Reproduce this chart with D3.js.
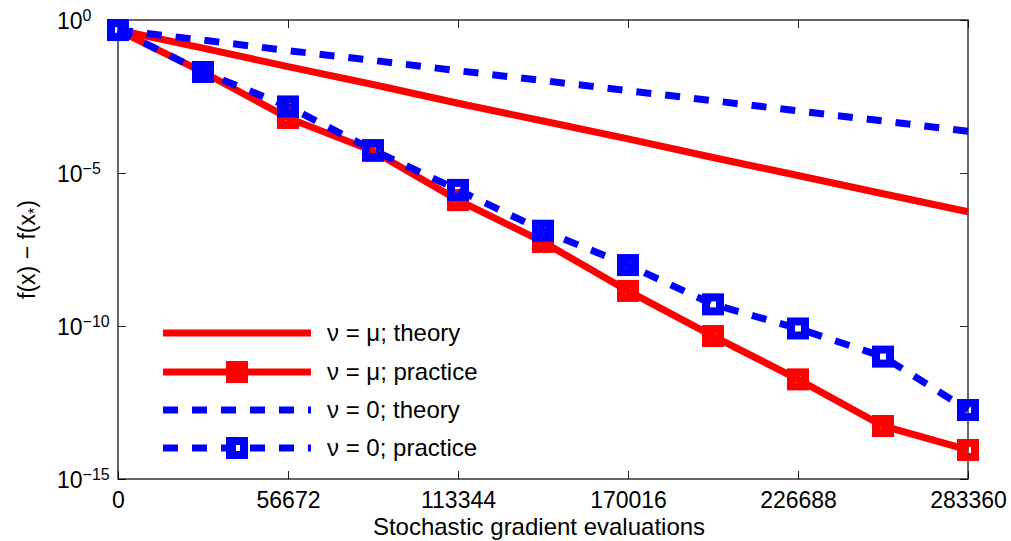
<!DOCTYPE html>
<html>
<head>
<meta charset="utf-8">
<script src="https://cdn.jsdelivr.net/npm/d3@7"></script>
<style>
  body { margin: 0; background: #fff; }
  svg { font-family: "Liberation Sans", Arial, Helvetica, sans-serif; }
</style>
</head>
<body>
<svg id="svg" width="1011" height="541"></svg>
<script>
// Values
var evals = [0, 28336, 56672, 85008, 113344, 141680, 170016, 198352, 226688, 255024, 283360];
var xTicks = [0, 56672, 113344, 170016, 226688, 283360];
var yTicks = [0, -5, -10, -15]; // exponents of 10

var muTheory = [4.7e-1, 1.2e-1, 3.0e-2, 7.8e-3, 1.9e-3, 5.0e-4, 1.3e-4, 3.2e-5, 8.3e-6, 2.1e-6, 5.4e-7];
var muPractice = [4.7e-1, 2.0e-2, 6.3e-4, 5.2e-5, 1.3e-6, 5.6e-8, 1.4e-9, 4.7e-11, 1.8e-12, 5.4e-14, 8.9e-15];
var zeroTheory = [4.7e-1, 2.2e-1, 1.0e-1, 4.8e-2, 2.2e-2, 1.05e-2, 4.9e-3, 2.3e-3, 1.07e-3, 5.0e-4, 2.3e-4];
var zeroPractice = [4.7e-1, 2.0e-2, 1.5e-3, 5.6e-5, 2.8e-6, 1.3e-7, 9.8e-9, 5.1e-10, 8.3e-11, 1.0e-11, 1.8e-13];

var seriesNames = ['\u03bd = \u03bc; theory', '\u03bd = \u03bc; practice', '\u03bd = 0; theory', '\u03bd = 0; practice'];

(function() {

var left = 118, right = 968, top = 20, bottom = 479;
var svg = d3.select('#svg');

var x = d3.scaleLinear().domain([0, 283360]).range([left, right]);
var y = d3.scaleLog().domain([1e-15, 1]).range([bottom, top]);

var RED = '#ff0000', BLUE = '#0000ff';
var LW = 7, DASH = '15,14';

// axes with inward ticks on all four sides
function styleAxis(g) {
  g.select('.domain').remove();
  g.selectAll('.tick line').attr('stroke', '#262626').attr('stroke-width', 1);
}
var yTickVals = yTicks.map(e => Math.pow(10, e));

svg.append('g').attr('transform', 'translate(0,' + bottom + ')')
  .call(d3.axisBottom(x).tickValues(xTicks).tickSizeInner(-8).tickPadding(13).tickFormat(d3.format('d')))
  .call(styleAxis)
  .selectAll('text').attr('font-size', 23).attr('fill', '#000').attr('font-family', null);
svg.append('g').attr('transform', 'translate(0,' + top + ')')
  .call(d3.axisTop(x).tickValues(xTicks).tickSizeInner(-8).tickFormat(''))
  .call(styleAxis);
svg.append('g').attr('transform', 'translate(' + left + ',0)')
  .call(d3.axisLeft(y).tickValues(yTickVals).tickSizeInner(-8).tickFormat(''))
  .call(styleAxis);
svg.append('g').attr('transform', 'translate(' + right + ',0)')
  .call(d3.axisRight(y).tickValues(yTickVals).tickSizeInner(-8).tickFormat(''))
  .call(styleAxis);

// y tick labels as 10^e
var ylab = svg.append('g').selectAll('text')
  .data(yTicks).enter().append('text')
  .attr('x', 57)
  .attr('y', d => y(Math.pow(10, d)) + 9)
  .attr('font-size', 23);
ylab.append('tspan').text('10');
ylab.append('tspan').attr('dy', -8).attr('font-size', 16)
  .text(d => d === 0 ? '0' : '\u2212' + Math.abs(d));

svg.append('rect')
  .attr('x', left).attr('y', top)
  .attr('width', right - left).attr('height', bottom - top)
  .attr('fill', 'none').attr('stroke', '#000').attr('stroke-width', 1.2);

// axis titles
svg.append('text')
  .attr('x', 539).attr('y', 535)
  .attr('text-anchor', 'middle').attr('font-size', 24)
  .text('Stochastic gradient evaluations');

var yt = svg.append('text')
  .attr('transform', 'translate(35,' + ((top + bottom) / 2) + ') rotate(-90)')
  .attr('text-anchor', 'middle').attr('font-size', 23);
yt.append('tspan').text('f(x) \u2212 f(x');
yt.append('tspan').attr('font-size', 16).attr('dy', 5).text('*');
yt.append('tspan').attr('dy', -5).text(')');

// series
var line = d3.line().x((d, i) => x(evals[i])).y(d => y(d));

function drawLine(vals, color, dash) {
  svg.append('path').datum(vals)
    .attr('d', line)
    .attr('fill', 'none')
    .attr('stroke', color)
    .attr('stroke-width', LW)
    .attr('stroke-dasharray', dash)
    .attr('stroke-linejoin', 'miter');
}
function drawMarkers(vals, color) {
  svg.append('g').selectAll('rect')
    .data(vals).enter().append('rect')
    .attr('x', (d, i) => x(evals[i]) - 7)
    .attr('y', d => y(d) - 7)
    .attr('width', 14).attr('height', 14)
    .attr('fill', 'none')
    .attr('stroke', color)
    .attr('stroke-width', 8);
}

drawLine(muTheory, RED, null);
drawLine(muPractice, RED, null);
drawMarkers(muPractice, RED);
drawLine(zeroTheory, BLUE, DASH);
drawLine(zeroPractice, BLUE, DASH);
drawMarkers(zeroPractice, BLUE);

// legend
var legendY = [333, 372, 410, 448];
var legendStyle = [
  {color: RED, dash: null, marker: false},
  {color: RED, dash: null, marker: true},
  {color: BLUE, dash: DASH, marker: false},
  {color: BLUE, dash: DASH, marker: true}
];
var lg = svg.append('g').selectAll('g')
  .data(seriesNames).enter().append('g')
  .attr('transform', (d, i) => 'translate(0,' + legendY[i] + ')');
lg.append('line')
  .attr('x1', 163).attr('x2', 311)
  .attr('stroke', (d, i) => legendStyle[i].color)
  .attr('stroke-width', LW)
  .attr('stroke-dasharray', (d, i) => legendStyle[i].dash);
lg.filter((d, i) => legendStyle[i].marker).append('rect')
  .attr('x', 230).attr('y', -7).attr('width', 14).attr('height', 14)
  .attr('fill', 'none')
  .attr('stroke', (d, i) => legendStyle[i * 2 + 1].color)
  .attr('stroke-width', 8);
lg.append('text')
  .attr('x', 327).attr('y', 8)
  .attr('font-size', 24)
  .text(d => d);

})();
</script>
</body>
</html>
